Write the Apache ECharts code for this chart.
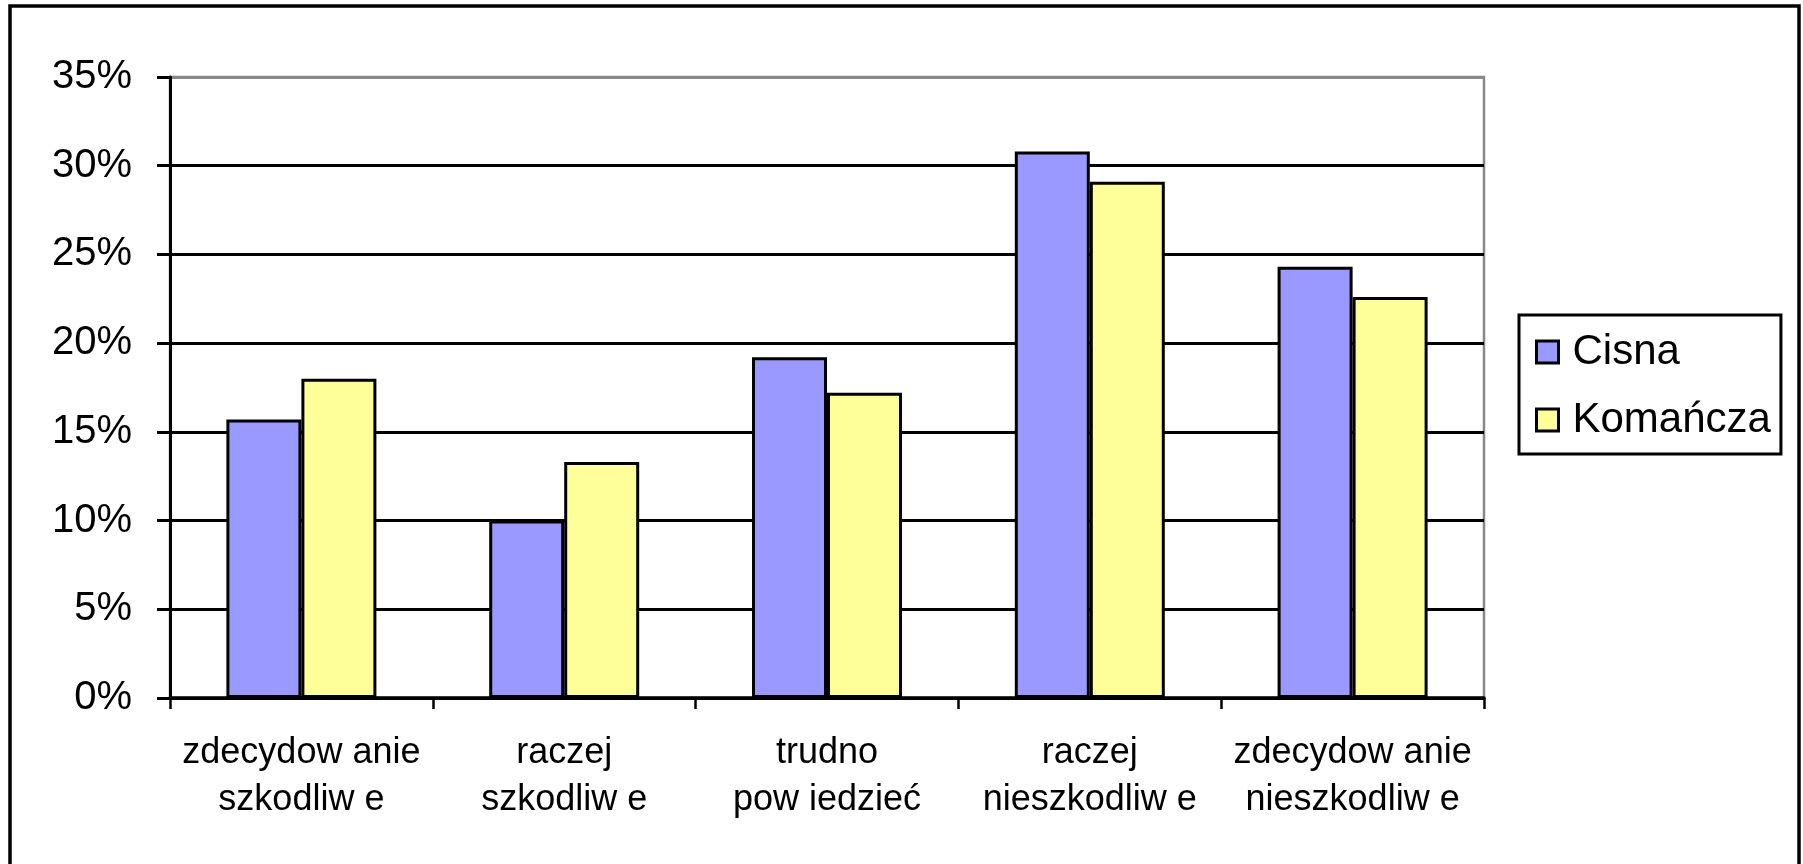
<!DOCTYPE html>
<html>
<head>
<meta charset="utf-8">
<script src="https://cdn.jsdelivr.net/npm/echarts@6/dist/echarts.min.js"></script>
<style>
html,body{margin:0;padding:0;background:#fff;}
#chart{width:1803px;height:864px;}
</style>
</head>
<body>
<div id="chart"></div>
<script>
const categories = ['zdecydow anie\nszkodliw e', 'raczej\nszkodliw e', 'trudno\npow iedzieć', 'raczej\nnieszkodliw e', 'zdecydow anie\nnieszkodliw e'];
const seriesNames = ['Cisna', 'Komańcza'];
const cisna = [15.7, 10.0, 19.2, 30.8, 24.3];
const komancza = [18.0, 13.3, 17.2, 29.1, 22.6];
const yTicks = [0, 5, 10, 15, 20, 25, 30, 35];

const FONT = "'Liberation Sans', Arial, sans-serif";
const chart = echarts.init(document.getElementById('chart'), null, {renderer: 'canvas'});
chart.setOption({
  animation: false,
  backgroundColor: '#fff',
  graphic: [{
    type: 'rect',
    shape: {x: 10, y: 6, width: 1789, height: 900},
    style: {fill: 'none', stroke: '#000', lineWidth: 3.5},
    z: 100
  }],
  grid: {
    left: 170, right: 319, top: 77, bottom: 166,
    show: true, borderColor: '#888', borderWidth: 2.5, backgroundColor: 'transparent'
  },
  legend: {
    orient: 'vertical',
    left: 1519, top: 315,
    width: 269,
    padding: [15, 10, 12, 16],
    itemGap: 24,
    itemWidth: 22, itemHeight: 22,
    icon: 'rect',
    borderColor: '#000', borderWidth: 3,
    itemStyle: {borderColor: '#000', borderWidth: 3},
    textStyle: {fontFamily: FONT, fontSize: 42, color: '#000', lineHeight: 44, padding: [0, 0, 0, 9]},
    data: seriesNames
  },
  xAxis: {
    type: 'category',
    data: categories,
    boundaryGap: true,
    axisLine: {show: true, lineStyle: {color: '#000', width: 3.5}},
    axisTick: {show: true, alignWithLabel: false, length: 11, lineStyle: {color: '#000', width: 2.5}},
    axisLabel: {fontFamily: FONT, fontSize: 36, color: '#000', lineHeight: 47, margin: 32, interval: 0},
    splitLine: {show: false}
  },
  yAxis: {
    type: 'value',
    min: 0, max: 35, interval: 5,
    axisLine: {show: true, lineStyle: {color: '#000', width: 3}},
    axisTick: {show: true, length: 13, lineStyle: {color: '#000', width: 3}},
    axisLabel: {fontFamily: FONT, fontSize: 40, color: '#000', margin: 38, formatter: function (v) { return yTicks.indexOf(v) >= 0 ? v + '%' : ''; }},
    splitLine: {show: true, lineStyle: {color: ['#000', '#000', '#000', '#000', '#000', '#000', '#000', '#888'], width: 3}}
  },
  series: [
    {
      name: seriesNames[0], type: 'bar', data: cisna,
      barWidth: 75, barGap: '0%',
      itemStyle: {color: '#9999FF', borderColor: '#000', borderWidth: 3}
    },
    {
      name: seriesNames[1], type: 'bar', data: komancza,
      barWidth: 75, barGap: '0%',
      itemStyle: {color: '#FFFF99', borderColor: '#000', borderWidth: 3}
    }
  ]
});
</script>
</body>
</html>
